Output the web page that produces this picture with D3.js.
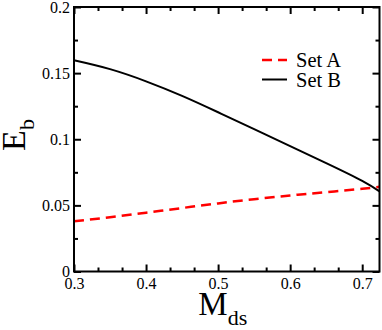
<!DOCTYPE html>
<html>
<head>
<meta charset="utf-8">
<script src="https://cdn.jsdelivr.net/npm/d3@7"></script>
<style>
  body { margin: 0; background: #fff; }
  svg { display: block; }
  svg text { font-family: "Liberation Serif", "Times New Roman", serif; fill: #000; }
</style>
</head>
<body>
<div id="chart"></div>
<script>
// values
const massValues = [0.30, 0.35, 0.40, 0.45, 0.50, 0.55, 0.60, 0.65, 0.70, 0.724];
const setA = [0.038, 0.041, 0.0445, 0.048, 0.0515, 0.0547, 0.0575, 0.0600, 0.0625, 0.064];
const setB = [0.1597, 0.1530, 0.1438, 0.1328, 0.1204, 0.1076, 0.0948, 0.0820, 0.0686, 0.0606];
const xTicks = [0.3, 0.4, 0.5, 0.6, 0.7];
const xMinorTicks = [0.3333, 0.3667, 0.4333, 0.4667, 0.5333, 0.5667, 0.6333, 0.6667];
const yTicks = [0, 0.05, 0.1, 0.15, 0.2];
const yMinorTicks = [0.025, 0.075, 0.125, 0.175];
const seriesNames = ["Set A", "Set B"];

const W = 382, H = 330;
const margin = { top: 7, right: 2.5, bottom: 58.5, left: 74 },
    width = W - margin.left - margin.right,
    height = H - margin.top - margin.bottom;
const serif = '"Liberation Serif", "Times New Roman", serif';

const svg = d3.select("#chart").append("svg")
    .attr("width", W)
    .attr("height", H);

const g = svg.append("g")
    .attr("transform", `translate(${margin.left},${margin.top})`);

const x = d3.scaleLinear().domain([0.3, 0.724]).range([0, width]);
const y = d3.scaleLinear().domain([0, 0.2]).range([height, 0]);

const fmt = d => d === 0 ? "0" : String(+d.toFixed(3));

function styleAxis(sel) {
    sel.attr("font-family", serif).attr("font-size", 16);
    sel.select(".domain").remove();
    sel.selectAll(".tick line").attr("stroke", "#000").attr("stroke-width", 2);
    sel.selectAll(".tick text").style("font-size", "16px").style("font-family", serif);
}

// bottom / top axes (ticks point inwards)
g.append("g").attr("transform", `translate(0,${height})`)
    .call(d3.axisBottom(x).tickValues(xTicks).tickSize(-7).tickPadding(6).tickFormat(fmt))
    .call(styleAxis);
g.append("g").attr("transform", `translate(0,${height})`)
    .call(d3.axisBottom(x).tickValues(xMinorTicks).tickSize(-4).tickFormat(""))
    .call(styleAxis);
g.append("g")
    .call(d3.axisTop(x).tickValues(xTicks).tickSize(-7).tickFormat(""))
    .call(styleAxis);
g.append("g")
    .call(d3.axisTop(x).tickValues(xMinorTicks).tickSize(-4).tickFormat(""))
    .call(styleAxis);

// left / right axes
g.append("g")
    .call(d3.axisLeft(y).tickValues(yTicks).tickSize(-7).tickPadding(4).tickFormat(fmt))
    .call(styleAxis);
g.append("g")
    .call(d3.axisLeft(y).tickValues(yMinorTicks).tickSize(-4).tickFormat(""))
    .call(styleAxis);
g.append("g").attr("transform", `translate(${width},0)`)
    .call(d3.axisRight(y).tickValues(yTicks).tickSize(-7).tickFormat(""))
    .call(styleAxis);
g.append("g").attr("transform", `translate(${width},0)`)
    .call(d3.axisRight(y).tickValues(yMinorTicks).tickSize(-4).tickFormat(""))
    .call(styleAxis);

// curves
const line = d3.line()
    .x((d, i) => x(massValues[i]))
    .y(d => y(d))
    .curve(d3.curveNatural);

g.append("path").datum(setB)
    .attr("fill", "none")
    .attr("stroke", "#000")
    .attr("stroke-width", 2)
    .attr("d", line);

g.append("path").datum(setA)
    .attr("fill", "none")
    .attr("stroke", "#ff0000")
    .attr("stroke-width", 2.5)
    .attr("stroke-dasharray", "10,6")
    .attr("d", line);

// frame
g.append("rect")
    .attr("width", width)
    .attr("height", height)
    .attr("fill", "none")
    .attr("stroke", "#000")
    .attr("stroke-width", 2);

// legend
const legend = svg.append("g").attr("font-family", serif);
const legendStyles = [
    { color: "#ff0000", dash: "10,6", width: 2.5 },
    { color: "#000", dash: null, width: 2 }
];
seriesNames.forEach((name, i) => {
    const ly = 60 + i * 19.5;
    legend.append("line")
        .attr("x1", 262).attr("x2", 287)
        .attr("y1", ly).attr("y2", ly)
        .attr("stroke", legendStyles[i].color)
        .attr("stroke-width", legendStyles[i].width)
        .attr("stroke-dasharray", legendStyles[i].dash);
    legend.append("text")
        .attr("x", 296).attr("y", ly + 7)
        .style("font-size", "20.5px")
        .style("font-family", serif)
        .text(name);
});

// axis titles
svg.append("text")
    .attr("x", (margin.left + W - margin.right) / 2 - 4)
    .attr("y", 315)
    .attr("text-anchor", "middle")
    .style("font-size", "33px")
    .style("font-family", serif)
    .html('M<tspan dy="10" style="font-size:22px">ds</tspan>');

svg.append("text")
    .attr("transform", "translate(25,135) rotate(-90)")
    .attr("text-anchor", "middle")
    .style("font-size", "34px")
    .style("font-family", serif)
    .html('E<tspan dy="9" style="font-size:22px">b</tspan>');
</script>
</body>
</html>
